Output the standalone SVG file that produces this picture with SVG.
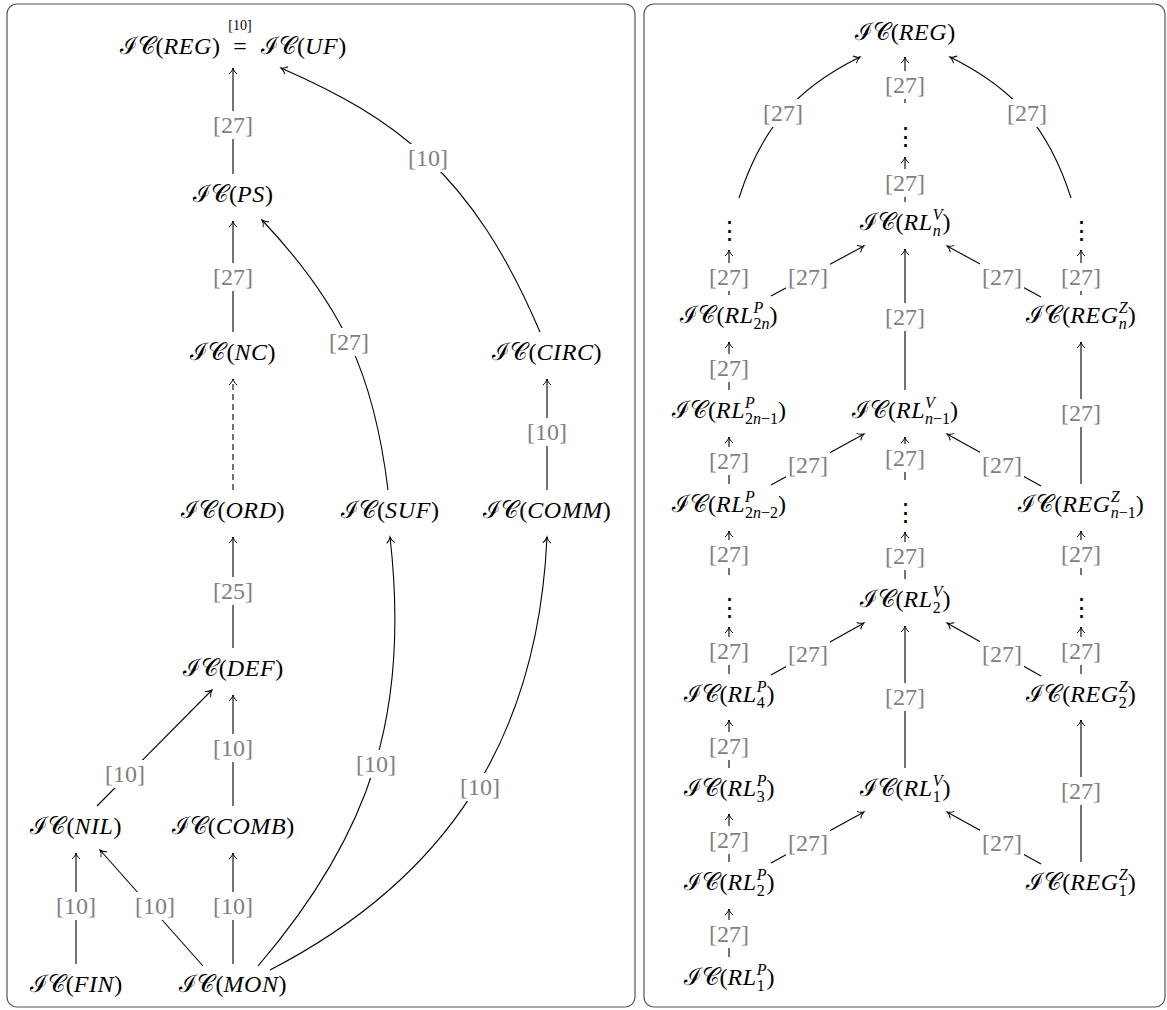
<svg xmlns="http://www.w3.org/2000/svg" width="1167" height="1010" viewBox="0 0 1167 1010">
<defs>
<style>
.n{font-family:"Liberation Serif","DejaVu Serif",serif;font-size:24px;fill:#000;text-anchor:middle}
.i{font-style:italic;letter-spacing:0.6px}
.s{font-size:16px;letter-spacing:0}
.l{font-family:"Liberation Serif",serif;font-size:24px;fill:#7f7f7f;text-anchor:middle}
.bg{fill:#fff}
.e{fill:none;stroke:#000;stroke-width:1.1;marker-end:url(#a)}
.d{stroke-dasharray:6 4}
.dots{font-family:"DejaVu Serif",serif;font-size:25px;fill:#000;text-anchor:middle}
.panel{fill:none;stroke:#555;stroke-width:1.2}
</style>
<marker id="a" markerWidth="10" markerHeight="10" refX="0" refY="0" viewBox="-8 -5 10 10" orient="auto" markerUnits="userSpaceOnUse"><path d="M-6,-4 C-4,-1.5 -1.5,-0.4 0,0 C-1.5,0.4 -4,1.5 -6,4" fill="none" stroke="#000" stroke-width="1"/></marker>
</defs>
<rect width="1167" height="1010" fill="#fff"/>
<rect class="panel" x="7" y="4" width="628" height="1003" rx="10"/>
<rect class="panel" x="644" y="4" width="521" height="1003" rx="10"/>

<g id="connectors">
<path class="e" d="M233 174V68"/>
<path class="e" d="M233 332V221"/>
<path class="e d" d="M233 490V379"/>
<path class="e" d="M233 648V537"/>
<path class="e" d="M233 806V695"/>
<path class="e" d="M233 964V853"/>
<path class="e" d="M76 964V853"/>
<path class="e" d="M203 966L100 850"/>
<path class="e" d="M97 806L212 690"/>
<path class="e" d="M388 490C374 374 342 305 262 220"/>
<path class="e" d="M540 332C472 172 395 118 281 68"/>
<path class="e" d="M547 490V379"/>
<path class="e" d="M258 966C372 833 410 712 390 537"/>
<path class="e" d="M270 970C448 878 538 738 547 537"/>
<path class="e" d="M905 103V57"/>
<path class="e" d="M905 202V157"/>
<path class="e" d="M905 390V249"/>
<path class="e" d="M905 480V437"/>
<path class="e" d="M905 579V532"/>
<path class="e" d="M905 768V626"/>
<path class="e" d="M729 295V250"/>
<path class="e" d="M729 390V342"/>
<path class="e" d="M729 484V437"/>
<path class="e" d="M729 575V531"/>
<path class="e" d="M729 674V627"/>
<path class="e" d="M729 768V720"/>
<path class="e" d="M729 862V814"/>
<path class="e" d="M729 957V909"/>
<path class="e" d="M1081 295V250"/>
<path class="e" d="M1081 484V342"/>
<path class="e" d="M1081 575V531"/>
<path class="e" d="M1081 674V627"/>
<path class="e" d="M1081 862V720"/>
<path class="e" d="M771 296L864 246"/>
<path class="e" d="M771 485L864 434"/>
<path class="e" d="M771 675L864 623"/>
<path class="e" d="M771 863L864 812"/>
<path class="e" d="M1041 297L947 246"/>
<path class="e" d="M1041 486L947 434"/>
<path class="e" d="M1041 676L947 623"/>
<path class="e" d="M1041 864L947 812"/>
<path class="e" d="M739 198C761 129 795 89 860 57"/>
<path class="e" d="M1071 198C1049 129 1015 89 950 57"/>
</g>

<g id="labels">
<g transform="translate(233 125)"><rect class="bg" x="-22" y="-14" width="44" height="28"/><text class="l" y="8">[27]</text></g>
<g transform="translate(233 277)"><rect class="bg" x="-22" y="-14" width="44" height="28"/><text class="l" y="8">[27]</text></g>
<g transform="translate(233 591)"><rect class="bg" x="-22" y="-14" width="44" height="28"/><text class="l" y="8">[25]</text></g>
<g transform="translate(233 748)"><rect class="bg" x="-22" y="-14" width="44" height="28"/><text class="l" y="8">[10]</text></g>
<g transform="translate(233 906)"><rect class="bg" x="-22" y="-14" width="44" height="28"/><text class="l" y="8">[10]</text></g>
<g transform="translate(76 906)"><rect class="bg" x="-22" y="-14" width="44" height="28"/><text class="l" y="8">[10]</text></g>
<g transform="translate(155 906)"><rect class="bg" x="-22" y="-14" width="44" height="28"/><text class="l" y="8">[10]</text></g>
<g transform="translate(125 774)"><rect class="bg" x="-22" y="-14" width="44" height="28"/><text class="l" y="8">[10]</text></g>
<g transform="translate(349 342)"><rect class="bg" x="-22" y="-14" width="44" height="28"/><text class="l" y="8">[27]</text></g>
<g transform="translate(428 158)"><rect class="bg" x="-22" y="-14" width="44" height="28"/><text class="l" y="8">[10]</text></g>
<g transform="translate(547 432)"><rect class="bg" x="-22" y="-14" width="44" height="28"/><text class="l" y="8">[10]</text></g>
<g transform="translate(376 764)"><rect class="bg" x="-22" y="-14" width="44" height="28"/><text class="l" y="8">[10]</text></g>
<g transform="translate(480 787)"><rect class="bg" x="-22" y="-14" width="44" height="28"/><text class="l" y="8">[10]</text></g>

<g transform="translate(905 85)"><rect class="bg" x="-22" y="-14" width="44" height="28"/><text class="l" y="8">[27]</text></g>
<g transform="translate(905 183)"><rect class="bg" x="-22" y="-14" width="44" height="28"/><text class="l" y="8">[27]</text></g>
<g transform="translate(905 317)"><rect class="bg" x="-22" y="-14" width="44" height="28"/><text class="l" y="8">[27]</text></g>
<g transform="translate(905 458)"><rect class="bg" x="-22" y="-14" width="44" height="28"/><text class="l" y="8">[27]</text></g>
<g transform="translate(905 556)"><rect class="bg" x="-22" y="-14" width="44" height="28"/><text class="l" y="8">[27]</text></g>
<g transform="translate(905 697)"><rect class="bg" x="-22" y="-14" width="44" height="28"/><text class="l" y="8">[27]</text></g>
<g transform="translate(729 277)"><rect class="bg" x="-22" y="-14" width="44" height="28"/><text class="l" y="8">[27]</text></g>
<g transform="translate(729 368)"><rect class="bg" x="-22" y="-14" width="44" height="28"/><text class="l" y="8">[27]</text></g>
<g transform="translate(729 461)"><rect class="bg" x="-22" y="-14" width="44" height="28"/><text class="l" y="8">[27]</text></g>
<g transform="translate(729 554)"><rect class="bg" x="-22" y="-14" width="44" height="28"/><text class="l" y="8">[27]</text></g>
<g transform="translate(729 651)"><rect class="bg" x="-22" y="-14" width="44" height="28"/><text class="l" y="8">[27]</text></g>
<g transform="translate(729 746)"><rect class="bg" x="-22" y="-14" width="44" height="28"/><text class="l" y="8">[27]</text></g>
<g transform="translate(729 840)"><rect class="bg" x="-22" y="-14" width="44" height="28"/><text class="l" y="8">[27]</text></g>
<g transform="translate(729 934)"><rect class="bg" x="-22" y="-14" width="44" height="28"/><text class="l" y="8">[27]</text></g>
<g transform="translate(1081 277)"><rect class="bg" x="-22" y="-14" width="44" height="28"/><text class="l" y="8">[27]</text></g>
<g transform="translate(1081 413)"><rect class="bg" x="-22" y="-14" width="44" height="28"/><text class="l" y="8">[27]</text></g>
<g transform="translate(1081 554)"><rect class="bg" x="-22" y="-14" width="44" height="28"/><text class="l" y="8">[27]</text></g>
<g transform="translate(1081 651)"><rect class="bg" x="-22" y="-14" width="44" height="28"/><text class="l" y="8">[27]</text></g>
<g transform="translate(1081 791)"><rect class="bg" x="-22" y="-14" width="44" height="28"/><text class="l" y="8">[27]</text></g>
<g transform="translate(808 277)"><rect class="bg" x="-22" y="-14" width="44" height="28"/><text class="l" y="8">[27]</text></g>
<g transform="translate(808 465)"><rect class="bg" x="-22" y="-14" width="44" height="28"/><text class="l" y="8">[27]</text></g>
<g transform="translate(808 654)"><rect class="bg" x="-22" y="-14" width="44" height="28"/><text class="l" y="8">[27]</text></g>
<g transform="translate(808 843)"><rect class="bg" x="-22" y="-14" width="44" height="28"/><text class="l" y="8">[27]</text></g>
<g transform="translate(1002 277)"><rect class="bg" x="-22" y="-14" width="44" height="28"/><text class="l" y="8">[27]</text></g>
<g transform="translate(1002 465)"><rect class="bg" x="-22" y="-14" width="44" height="28"/><text class="l" y="8">[27]</text></g>
<g transform="translate(1002 654)"><rect class="bg" x="-22" y="-14" width="44" height="28"/><text class="l" y="8">[27]</text></g>
<g transform="translate(1002 843)"><rect class="bg" x="-22" y="-14" width="44" height="28"/><text class="l" y="8">[27]</text></g>
<g transform="translate(783 113)"><rect class="bg" x="-22" y="-14" width="44" height="28"/><text class="l" y="8">[27]</text></g>
<g transform="translate(1027 113)"><rect class="bg" x="-22" y="-14" width="44" height="28"/><text class="l" y="8">[27]</text></g>
</g>

<g id="n-reg-uf">
<text class="n" x="220" y="54" style="text-anchor:end">ℐ𝒞(<tspan class="i">REG</tspan>)</text>
<text class="n" x="240" y="54">=</text>
<text class="n" x="240" y="30" style="font-size:14px">[10]</text>
<text class="n" x="261" y="54" style="text-anchor:start">ℐ𝒞(<tspan class="i">UF</tspan>)</text>
</g>
<g id="n-ps"><text class="n" x="233" y="202">ℐ𝒞(<tspan class="i">PS</tspan>)</text></g>
<g id="n-nc"><text class="n" x="233" y="360">ℐ𝒞(<tspan class="i">NC</tspan>)</text></g>
<g id="n-circ"><text class="n" x="547" y="360">ℐ𝒞(<tspan class="i">CIRC</tspan>)</text></g>
<g id="n-ord"><text class="n" x="233" y="518">ℐ𝒞(<tspan class="i">ORD</tspan>)</text></g>
<g id="n-suf"><text class="n" x="390" y="518">ℐ𝒞(<tspan class="i">SUF</tspan>)</text></g>
<g id="n-comm"><text class="n" x="547" y="518">ℐ𝒞(<tspan class="i">COMM</tspan>)</text></g>
<g id="n-def"><text class="n" x="233" y="676">ℐ𝒞(<tspan class="i">DEF</tspan>)</text></g>
<g id="n-nil"><text class="n" x="76" y="834">ℐ𝒞(<tspan class="i">NIL</tspan>)</text></g>
<g id="n-comb"><text class="n" x="233" y="834">ℐ𝒞(<tspan class="i">COMB</tspan>)</text></g>
<g id="n-fin"><text class="n" x="76" y="992">ℐ𝒞(<tspan class="i">FIN</tspan>)</text></g>
<g id="n-mon"><text class="n" x="233" y="992">ℐ𝒞(<tspan class="i">MON</tspan>)</text></g>

<g id="n-reg"><text class="n" x="905" y="40">ℐ𝒞(<tspan class="i">REG</tspan>)</text></g>
<g id="n-vd-m1"><text class="dots" x="905" y="145">⋮</text></g>
<g id="n-vd-m5"><text class="dots" x="905" y="521">⋮</text></g>
<g id="n-vd-l2"><text class="dots" x="729" y="239">⋮</text></g>
<g id="n-vd-l6"><text class="dots" x="729" y="616">⋮</text></g>
<g id="n-vd-r2"><text class="dots" x="1081" y="239">⋮</text></g>
<g id="n-vd-r6"><text class="dots" x="1081" y="616">⋮</text></g>

<g id="n-rlv-n"><text class="n" x="905" y="230">ℐ𝒞(<tspan class="i">RL</tspan><tspan class="s i" dy="-10">V</tspan><tspan class="s i" dx="-9.8" dy="16">n</tspan><tspan dx="1.8" dy="-6">)</tspan></text></g>
<g id="n-rlv-n1"><text class="n" x="905" y="418">ℐ𝒞(<tspan class="i">RL</tspan><tspan class="s i" dy="-10">V</tspan><tspan class="s i" dx="-9.8" dy="16">n</tspan><tspan class="s">−1</tspan><tspan dy="-6">)</tspan></text></g>
<g id="n-rlv-2"><text class="n" x="905" y="607">ℐ𝒞(<tspan class="i">RL</tspan><tspan class="s i" dy="-10">V</tspan><tspan class="s" dx="-9.8" dy="16">2</tspan><tspan dx="1.8" dy="-6">)</tspan></text></g>
<g id="n-rlv-1"><text class="n" x="905" y="796">ℐ𝒞(<tspan class="i">RL</tspan><tspan class="s i" dy="-10">V</tspan><tspan class="s" dx="-9.8" dy="16">1</tspan><tspan dx="1.8" dy="-6">)</tspan></text></g>

<g id="n-rlp-2n"><text class="n" x="729" y="323">ℐ𝒞(<tspan class="i">RL</tspan><tspan class="s i" dy="-10">P</tspan><tspan class="s" dx="-9.8" dy="16">2</tspan><tspan class="s i">n</tspan><tspan dy="-6">)</tspan></text></g>
<g id="n-rlp-2n1"><text class="n" x="729" y="418">ℐ𝒞(<tspan class="i">RL</tspan><tspan class="s i" dy="-10">P</tspan><tspan class="s" dx="-9.8" dy="16">2</tspan><tspan class="s i">n</tspan><tspan class="s">−1</tspan><tspan dy="-6">)</tspan></text></g>
<g id="n-rlp-2n2"><text class="n" x="729" y="512">ℐ𝒞(<tspan class="i">RL</tspan><tspan class="s i" dy="-10">P</tspan><tspan class="s" dx="-9.8" dy="16">2</tspan><tspan class="s i">n</tspan><tspan class="s">−2</tspan><tspan dy="-6">)</tspan></text></g>
<g id="n-rlp-4"><text class="n" x="729" y="702">ℐ𝒞(<tspan class="i">RL</tspan><tspan class="s i" dy="-10">P</tspan><tspan class="s" dx="-9.8" dy="16">4</tspan><tspan dx="1.8" dy="-6">)</tspan></text></g>
<g id="n-rlp-3"><text class="n" x="729" y="796">ℐ𝒞(<tspan class="i">RL</tspan><tspan class="s i" dy="-10">P</tspan><tspan class="s" dx="-9.8" dy="16">3</tspan><tspan dx="1.8" dy="-6">)</tspan></text></g>
<g id="n-rlp-2"><text class="n" x="729" y="890">ℐ𝒞(<tspan class="i">RL</tspan><tspan class="s i" dy="-10">P</tspan><tspan class="s" dx="-9.8" dy="16">2</tspan><tspan dx="1.8" dy="-6">)</tspan></text></g>
<g id="n-rlp-1"><text class="n" x="729" y="985">ℐ𝒞(<tspan class="i">RL</tspan><tspan class="s i" dy="-10">P</tspan><tspan class="s" dx="-9.8" dy="16">1</tspan><tspan dx="1.8" dy="-6">)</tspan></text></g>

<g id="n-regz-n"><text class="n" x="1081" y="323">ℐ𝒞(<tspan class="i">REG</tspan><tspan class="s i" dy="-10">Z</tspan><tspan class="s i" dx="-8.9" dy="16">n</tspan><tspan dx="0.9" dy="-6">)</tspan></text></g>
<g id="n-regz-n1"><text class="n" x="1081" y="512">ℐ𝒞(<tspan class="i">REG</tspan><tspan class="s i" dy="-10">Z</tspan><tspan class="s i" dx="-8.9" dy="16">n</tspan><tspan class="s">−1</tspan><tspan dy="-6">)</tspan></text></g>
<g id="n-regz-2"><text class="n" x="1081" y="702">ℐ𝒞(<tspan class="i">REG</tspan><tspan class="s i" dy="-10">Z</tspan><tspan class="s" dx="-8.9" dy="16">2</tspan><tspan dx="0.9" dy="-6">)</tspan></text></g>
<g id="n-regz-1"><text class="n" x="1081" y="890">ℐ𝒞(<tspan class="i">REG</tspan><tspan class="s i" dy="-10">Z</tspan><tspan class="s" dx="-8.9" dy="16">1</tspan><tspan dx="0.9" dy="-6">)</tspan></text></g>
</svg>
